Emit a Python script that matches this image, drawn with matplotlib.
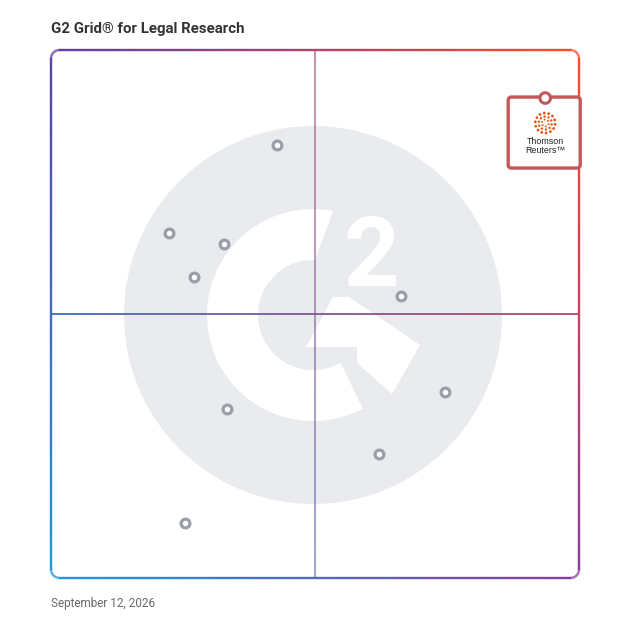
import numpy as np
import matplotlib
matplotlib.use("Agg")
import matplotlib.pyplot as plt
from matplotlib.collections import LineCollection
from matplotlib.patches import Circle, Polygon, FancyBboxPatch
from matplotlib.colors import to_rgb

# ---------------- data ----------------
title = "G2 Grid\u00ae for Legal Research"
date_label = "September 12, 2026"
satisfaction = [42.8, 22.3, 32.8, 27.1, 66.3, 74.6, 33.3, 62.1, 25.4]
market_presence = [82.0, 65.3, 63.2, 57.1, 53.5, 35.3, 32.1, 23.5, 10.4]
featured_name = "Thomson\nReuters\u2122"
featured_x = 93.6
featured_y = 90.9

W = H = 628
fig = plt.figure(figsize=(W / 100, H / 100), dpi=100)
fig.patch.set_facecolor("white")

# background overlay in pixel coords (logo)
bg = fig.add_axes([0, 0, 1, 1], zorder=0)
bg.set_xlim(0, W); bg.set_ylim(H, 0); bg.axis("off")

cx, cy, R = 313, 315, 189
bg.add_patch(Circle((cx, cy), R, facecolor="#e9ebee", edgecolor="none"))
# white C ring
ro, ri = 106, 55
a_out = np.radians(np.linspace(79, 298, 200))
a_in = np.radians(np.linspace(300, 88, 200))
ptsC = np.concatenate([
    np.c_[cx + ro * np.cos(a_out), cy - ro * np.sin(a_out)],
    np.c_[cx + ri * np.cos(a_in), cy - ri * np.sin(a_in)],
])
bg.add_patch(Polygon(ptsC, closed=True, facecolor="white", edgecolor="none"))
# chevron
chev = [(333, 297), (349, 297), (420, 345), (392, 394), (357, 363),
        (357, 347), (306, 347)]
bg.add_patch(Polygon(chev, closed=True, facecolor="white", edgecolor="none"))
bg.text(372, 286, "2", fontsize=70, fontweight="bold", family="Roboto",
        color="white", ha="center", va="baseline")

# ---------------- main axes ----------------
ax = fig.add_axes([51 / W, 50 / H, 528 / W, 528 / H], zorder=2)
ax.set_xlim(0, 100); ax.set_ylim(0, 100)
ax.axis("off")
ax.patch.set_alpha(0)

TL, TR, BL, BR = map(np.array, map(to_rgb, ["#5b3ea8", "#ff4a2a", "#1e9ad8", "#8a3aa0"]))

def grad(u, v):
    return (1 - u) * (1 - v) * BL + u * (1 - v) * BR + (1 - u) * v * TL + u * v * TR

def rounded_rect(r=1.6, n=30):
    pts = []
    corners = [((100 - r, 100 - r), 0, 90), ((r, 100 - r), 90, 180),
               ((r, r), 180, 270), ((100 - r, r), 270, 360)]
    for (ccx, ccy), a0, a1 in corners:
        t = np.radians(np.linspace(a0, a1, n))
        pts.append(np.c_[ccx + r * np.cos(t), ccy + r * np.sin(t)])
    pts.append(pts[0][:1])
    p = np.concatenate(pts)
    out = [p[0]]
    for a, b in zip(p[:-1], p[1:]):
        k = max(1, int(np.hypot(*(b - a)) / 0.5))
        for s in np.linspace(0, 1, k + 1)[1:]:
            out.append(a + (b - a) * s)
    return np.array(out)

def grad_line(pts, alpha=1.0, lw=1.6, z=3):
    segs = np.stack([pts[:-1], pts[1:]], axis=1)
    mid = (pts[:-1] + pts[1:]) / 2
    cols = [tuple(np.clip(grad(m[0] / 100, m[1] / 100), 0, 1)) + (alpha,) for m in mid]
    lc = LineCollection(segs, colors=cols, linewidths=lw, capstyle="butt", zorder=z)
    lc.set_clip_on(False)
    ax.add_collection(lc)

grad_line(rounded_rect(), lw=1.7)
ys = np.linspace(0, 100, 200)
grad_line(np.c_[np.full_like(ys, 50), ys], alpha=0.65, lw=1.3, z=2)
xs = np.linspace(0, 100, 200)
grad_line(np.c_[xs, np.full_like(xs, 50)], alpha=1.0, lw=1.3, z=2)

ax.plot(satisfaction, market_presence, linestyle="none", marker="o",
        markersize=6.3, markerfacecolor="white", markeredgecolor="#9a9ea8",
        markeredgewidth=2.3, zorder=5, clip_on=False)

# ---------------- featured product label ----------------
ov = fig.add_axes([0, 0, 1, 1], zorder=3)
ov.set_xlim(0, W); ov.set_ylim(H, 0); ov.axis("off"); ov.patch.set_alpha(0)
fig.canvas.draw()
dx, dy = ax.transData.transform((featured_x, featured_y))
px, py = dx, H - dy
red = "#c4575a"
ov.add_patch(FancyBboxPatch((px - 37, py - 1), 72, 71,
                            boxstyle="round,pad=0,rounding_size=3",
                            facecolor="white", edgecolor=red, linewidth=2.4, zorder=4))
ov.add_patch(Circle((px, py), 5.3, facecolor="white", edgecolor=red, linewidth=2.2, zorder=6))
# dotted circle emblem
lx, ly = px, py + 25
for rr, n, s in [(10, 14, 4.0), (6.5, 10, 3.0), (3.5, 6, 2.0)]:
    t = np.linspace(0, 2 * np.pi, n, endpoint=False) + rr
    ov.scatter(lx + rr * np.cos(t), ly + rr * np.sin(t), s=s, color="#e2571b",
               edgecolors="none", zorder=6)
ov.text(px, py + 48, featured_name, ha="center", va="center", fontsize=6.4,
        family="Liberation Sans", color="#222222", linespacing=0.95, zorder=6)

# ---------------- texts ----------------
fig.text(51 / W, 1 - 29 / H, title, ha="left", va="center", fontsize=10.8,
         fontweight="bold", family="Roboto", color="#333333")
fig.text(51 / W, 1 - 604 / H, date_label, ha="left", va="center", fontsize=8.5,
         family="Roboto", color="#6a6a6a")

fig.savefig("out.png", dpi=100, facecolor="white")
